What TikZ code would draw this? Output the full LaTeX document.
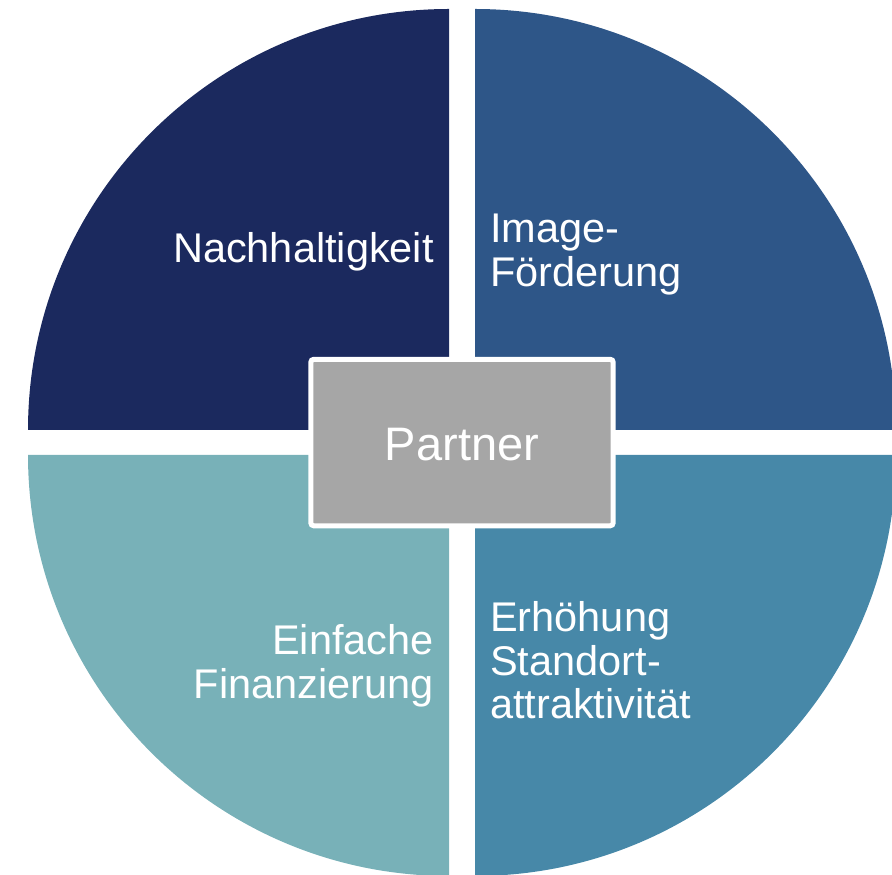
\documentclass[tikz,border=0pt]{standalone}
\usepackage{fontspec}
\setmainfont{Liberation Sans}
\definecolor{qTL}{HTML}{1B295E}
\definecolor{qTR}{HTML}{2E5688}
\definecolor{qBL}{HTML}{78B1B8}
\definecolor{qBR}{HTML}{4788A8}
\definecolor{partnergray}{HTML}{A6A6A6}
\tikzset{
  quad/.style={draw=none},
  lbl/.style={text=white, inner sep=0pt, font=\fontsize{41.5}{43.5}\selectfont},
  center box/.style={fill=partnergray, draw=white, line width=5pt, rounded corners=3pt}
}
\begin{document}
\begin{tikzpicture}[x=1pt,y=1pt]
\useasboundingbox (0,0) rectangle (892,875);
\begin{scope}
\clip (0,0) rectangle (892,875);
\fill[qTL,quad] (449,445) -- ++(-421,0) arc[start angle=180, end angle=90, radius=421] -- cycle;
\fill[qTR,quad] (475,445) -- ++(0,421) arc[start angle=90, end angle=0, radius=421] -- cycle;
\fill[qBL,quad] (449,420) -- ++(0,-421) arc[start angle=270, end angle=180, radius=421] -- cycle;
\fill[qBR,quad] (475,420) -- ++(421,0) arc[start angle=0, end angle=-90, radius=421] -- cycle;
\end{scope}
\draw[center box] (310.8,349.2) rectangle (613.2,515.7);
\node[lbl, anchor=base, font=\fontsize{47}{50}\selectfont] (partner) at (462,414) {Partner};
\node[lbl, anchor=base east, align=right] (nach) at (434,612) {Nachhaltigkeit};
\node[lbl, anchor=base west, align=left] (image) at (490,588.5) {Image-\\Förderung};
\node[lbl, anchor=base east, align=right] (einf) at (434,176.5) {Einfache\\Finanzierung};
\node[lbl, anchor=base west, align=left] (erh) at (490,156) {Erhöhung\\Standort-\\attraktivität};
\end{tikzpicture}
\end{document}
